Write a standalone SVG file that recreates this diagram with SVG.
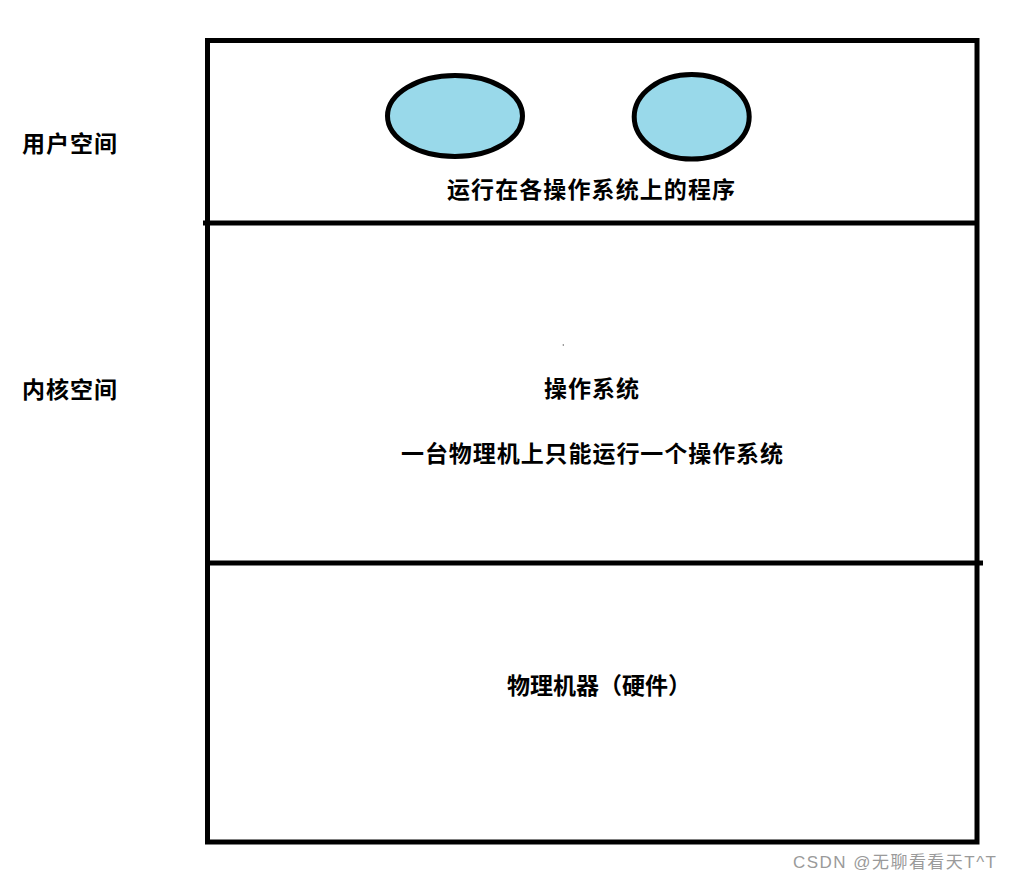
<svg xmlns="http://www.w3.org/2000/svg" width="1011" height="883" viewBox="0 0 1011 883">
  <style>
    .lbl { font-family: "Noto Sans CJK SC", "Liberation Sans", sans-serif; font-weight: bold; font-size: 23px; fill: #000; }
    .line { stroke: #000; stroke-width: 5; fill: none; }
    .prog { fill: #99D9EA; stroke: #000; stroke-width: 5; }
    .wm { font-family: "Liberation Sans", "Noto Sans CJK SC", sans-serif; font-size: 17px; fill: #9a9a9a; }
  </style>
  <rect width="1011" height="883" fill="#fff"/>
  <g id="side-labels">
    <text class="lbl" x="22" y="152" textLength="95" lengthAdjust="spacing">用户空间</text>
    <text class="lbl" x="22" y="398" textLength="95" lengthAdjust="spacing">内核空间</text>
  </g>
  <g id="frame">
    <rect class="line" x="207.5" y="40.5" width="769.5" height="801.5"/>
  </g>
  <g id="connectors">
    <line class="line" x1="203" y1="223" x2="977" y2="223"/>
    <line class="line" x1="207" y1="563" x2="983" y2="563"/>
  </g>
  <g id="user-space">
    <ellipse class="prog" cx="455" cy="116" rx="67.5" ry="40.5"/>
    <ellipse class="prog" cx="691.7" cy="116.8" rx="57.5" ry="42.3"/>
    <text class="lbl" x="447" y="198" textLength="288" lengthAdjust="spacing">运行在各操作系统上的程序</text>
  </g>
  <g id="kernel-space">
    <circle cx="563.3" cy="345" r="0.7" fill="#555"/>
    <text class="lbl" x="544" y="397" textLength="95" lengthAdjust="spacing">操作系统</text>
    <text class="lbl" x="401" y="462" textLength="382" lengthAdjust="spacing">一台物理机上只能运行一个操作系统</text>
  </g>
  <g id="hardware">
    <text class="lbl" x="507" y="694" textLength="184" lengthAdjust="spacing">物理机器（硬件）</text>
  </g>
  <text class="wm" x="793" y="868" textLength="203" lengthAdjust="spacing">CSDN @无聊看看天T^T</text>
</svg>
